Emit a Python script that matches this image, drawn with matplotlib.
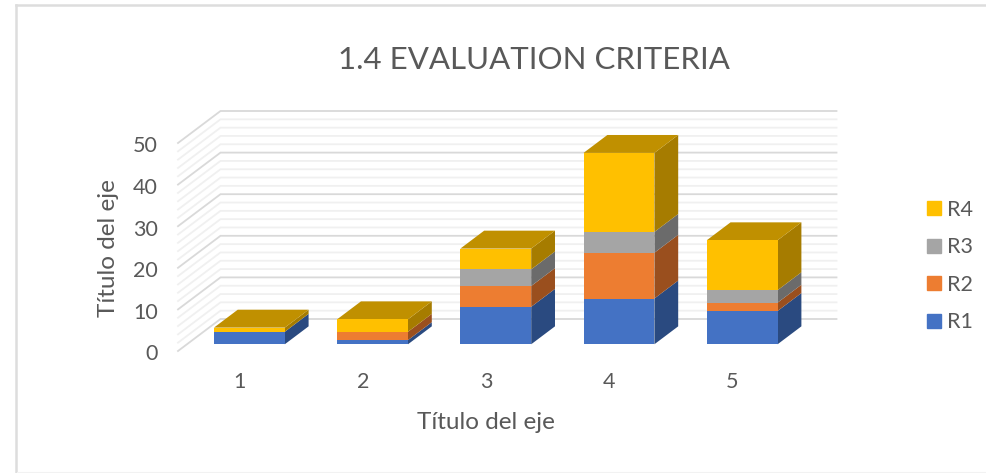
import matplotlib
matplotlib.use('Agg')
import matplotlib.pyplot as plt
from matplotlib.lines import Line2D
from matplotlib.patches import Rectangle
from matplotlib.transforms import ScaledTranslation

categories = [1, 2, 3, 4, 5]
r1 = [3, 1, 9, 11, 8]
r2 = [0, 2, 5, 11, 2]
r3 = [0, 0, 4, 5, 3]
r4 = [1, 3, 5, 19, 12]

series_names = ['R1', 'R2', 'R3', 'R4']
series_values = [r1, r2, r3, r4]
front_colors = ['#4472C4', '#ED7D31', '#A5A5A5', '#FFC000']
side_colors = ['#2A4A80', '#9A4F1E', '#6B6B6B', '#A67C00']
top_color = '#C09000'

W, H = 987, 473
plt.rcParams['font.family'] = ['Lato', 'DejaVu Sans']
text_color = '#595959'

fig = plt.figure(figsize=(W / 100, H / 100), dpi=100)
# axes is the front plane of the fake 3d box
ax = fig.add_axes([178 / W, 1 - 351 / H, 616 / W, 208 / H])
ax.set_xlim(0.5, 5.5)
ax.set_ylim(0, 50)
for s in ax.spines.values():
    s.set_visible(False)
ax.patch.set_alpha(0)

# full depth of the box, in data units
depth_x = 42.5 / 616 * 5
depth_y = 32 / 208 * 50
bar_width = 0.575
bar_d0 = 0.23
bar_d1 = 0.79


def proj(x, v, d):
    return x + d * depth_x, v + d * depth_y


# walls
for v in range(0, 51, 2):
    major = v % 10 == 0
    col = '#D9D9D9' if major else '#F0F0F0'
    x0, y0 = proj(0.5, v, 0)
    x1, y1 = proj(0.5, v, 1)
    x2, y2 = proj(5.5, v, 1)
    ax.plot([x0, x1, x2], [y0, y1, y2], color=col, lw=1.3, clip_on=False,
            zorder=2 if major else 1, solid_joinstyle='miter')

# bars
for i, c in enumerate(categories):
    bottom = -0.15
    for j in range(len(series_values)):
        val = series_values[j][i]
        xf, yf = proj(c - bar_width / 2, bottom, bar_d0)
        xb, yb = proj(c - bar_width / 2, bottom, bar_d1)
        if val > 0:
            ax.bar(xf, val, bar_width, bottom=yf, align='edge', color=front_colors[j],
                   clip_on=False, zorder=4)
            ax.fill([xf + bar_width, xb + bar_width, xb + bar_width, xf + bar_width],
                    [yf, yb, yb + val, yf + val], color=side_colors[j], lw=0,
                    clip_on=False, zorder=3)
        bottom += val
    xf, yf = proj(c - bar_width / 2, bottom, bar_d0)
    xb, yb = proj(c - bar_width / 2, bottom, bar_d1)
    ax.fill([xf, xf + bar_width, xb + bar_width, xb], [yf, yf, yb, yb],
            color=top_color, lw=0, clip_on=False, zorder=3)

ax.set_xticks(categories)
ax.set_yticks(range(0, 51, 10))
ax.tick_params(axis='both', length=0, labelsize=15.5, labelcolor=text_color)
ax.tick_params(axis='y', pad=14.5)
ax.tick_params(axis='x', pad=15)
shift = ScaledTranslation(0, -1.5 / 100, fig.dpi_scale_trans)
for lab in ax.get_yticklabels():
    lab.set_transform(lab.get_transform() + shift)

ax.set_xlabel('Título del eje', fontsize=17.5, color=text_color)
ax.xaxis.set_label_coords(0.5, -0.295)
ax.set_ylabel('Título del eje', fontsize=17.5, color=text_color)
ax.yaxis.set_label_coords(-0.096, 0.495)

fig.text(534 / W, 1 - 60 / H, '1.4 EVALUATION CRITERIA', fontsize=22.5, color=text_color,
         ha='center', va='center')

legend_handles = [Rectangle((0, 0), 1, 1, color=front_colors[j]) for j in range(3, -1, -1)]
fig.legend(legend_handles, series_names[::-1], loc='center left',
           bbox_to_anchor=(927 / W, 1 - 266 / H), frameon=False, fontsize=15.5,
           labelcolor=text_color, handlelength=0.63, handleheight=0.63, handletextpad=0.3,
           labelspacing=0.82, borderpad=0, borderaxespad=0)

# outer chart border, only left and top are really visible
fig.add_artist(Line2D([16.5 / W, 16.5 / W], [0, 1 - 5 / H], color='#DDDDDD', lw=1.8))
fig.add_artist(Line2D([16 / W, 1], [1 - 5.5 / H, 1 - 5.5 / H], color='#DDDDDD', lw=1.8))
fig.add_artist(Line2D([17 / W, 1], [1 - 472 / H, 1 - 472 / H], color='#F2F2F2', lw=0.8))

fig.savefig('out.png', dpi=100)
